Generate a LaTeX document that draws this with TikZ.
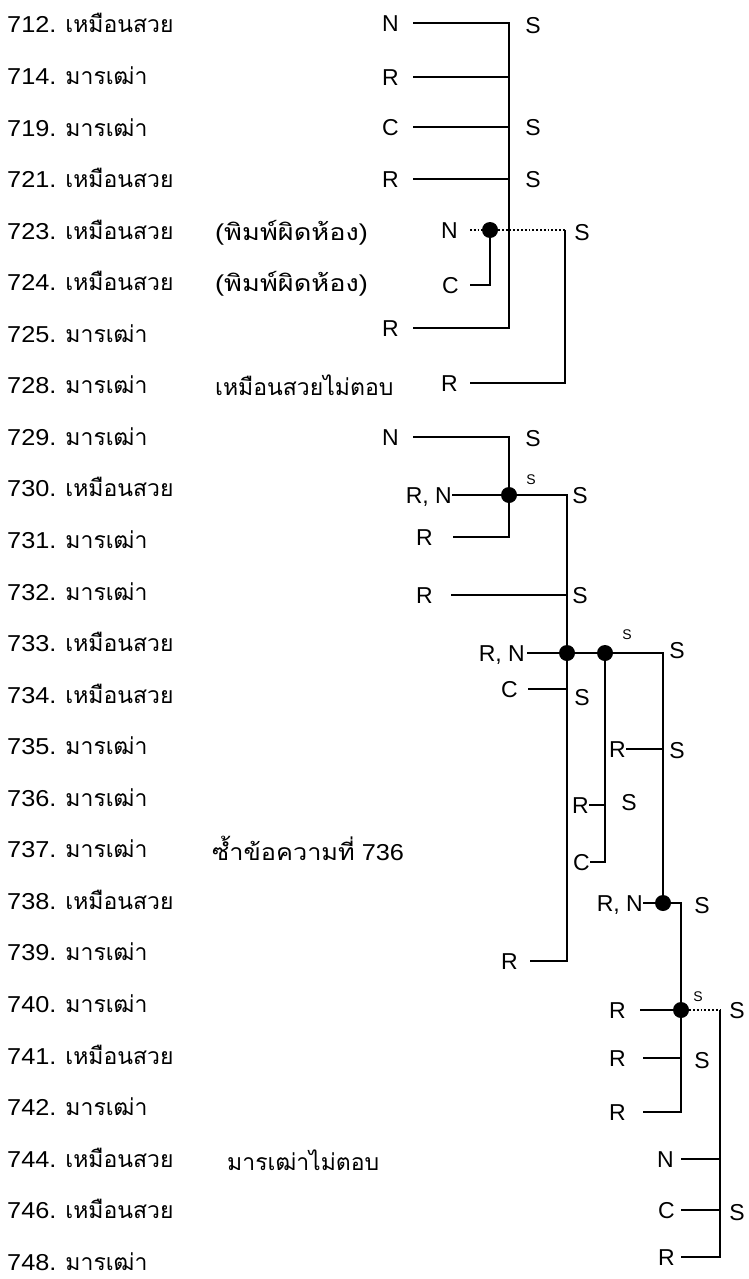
\documentclass[tikz,border=0pt]{standalone}
\usepackage{fontspec}
\setmainfont{Liberation Sans}
\newfontfamily\thaifont[Script=Thai]{Loma}
\usetikzlibrary{positioning}

\newcommand\thtxt[1]{{\thaifont #1}}
\newcommand\wide[2]{\scalebox{#1}[1]{#2}}

\begin{document}
\begin{tikzpicture}[x=1pt,y=-1pt,
  every node/.style={font=\fontsize{23}{27}\selectfont},
  wire/.style={line width=1.8pt},
  dotline/.style={line width=1.8pt,dotted},
  lab/.style={anchor=east,inner xsep=14pt,inner ysep=0pt,text height=16.5pt,text depth=0pt},
  row/.style={anchor=base west,inner sep=0pt},
  sl/.style={inner sep=0pt,text height=16.5pt,text depth=0pt},
  sm/.style={font=\fontsize{14}{16}\selectfont,inner sep=0pt},
  jdot/.style={circle,fill,inner sep=0pt,minimum size=16pt}]
\useasboundingbox (0,0) rectangle (748,1279);

% message list
\foreach \n/\who [count=\i from 0] in {712/เหมือนสวย,714/มารเฒ่า,719/มารเฒ่า,721/เหมือนสวย,
    723/เหมือนสวย,724/เหมือนสวย,725/มารเฒ่า,728/มารเฒ่า,729/มารเฒ่า,730/เหมือนสวย,
    731/มารเฒ่า,732/มารเฒ่า,733/เหมือนสวย,734/เหมือนสวย,735/มารเฒ่า,736/มารเฒ่า,
    737/มารเฒ่า,738/เหมือนสวย,739/มารเฒ่า,740/มารเฒ่า,741/เหมือนสวย,742/มารเฒ่า,
    744/เหมือนสวย,746/เหมือนสวย,748/มารเฒ่า}
  \node[row] (m\n) at (7,{33+51.55*\i}) {\wide{1.1}{\n.}\hspace{9pt}\thtxt{\who}};

% notes
\node[row] (x723) at (215,240) {\wide{1.18}{(\thtxt{พิมพ์ผิดห้อง})}};
\node[row] (x724) at (215,291) {\wide{1.18}{(\thtxt{พิมพ์ผิดห้อง})}};
\node[row] (x728) at (215,395) {\thtxt{เหมือนสวยไม่ตอบ}};
\node[row] (x737) at (212,860) {\wide{1.1}{\thtxt{ซ้ำข้อความที่} 736}};
\node[row] (x744) at (227,1170) {\thtxt{มารเฒ่าไม่ตอบ}};

% first block
\coordinate (a1) at (509,23);
\node[lab] (l712) at (413,23) {N};
\node[lab] (l714) at (413,77) {R};
\node[lab] (l719) at (413,127) {C};
\node[lab] (l721) at (413,179) {R};
\node[lab] (l725) at (413,328) {R};
\draw[wire] (l712.east) -- (a1) -- (a1 |- l725.east) -- (l725.east);
\foreach \r in {714,719,721}
  \draw[wire] (l\r.east) -- (l\r.east -| a1);
\node[sl] (s712) at (533,25) {S};
\node[sl] (s719) at (533,127) {S};
\node[sl] (s721) at (533,179) {S};

\node[lab,inner xsep=12pt] (l723) at (470,230) {N};
\node[lab,inner xsep=11pt] (l724) at (470,285) {C};
\node[lab,inner xsep=12pt] (l728) at (470,383) {R};
\node[jdot] (d723) at (490,230) {};
\coordinate (b1) at (565,230);
\draw[dotline] (l723.east) -- (d723) -- (b1);
\draw[wire] (d723.center) -- (d723.center |- l724.east) -- (l724.east);
\draw[wire] (b1) -- (b1 |- l728.east) -- (l728.east);
\node[sl] (s723) at (582,232) {S};

% second block
\node[lab] (l729) at (413,437) {N};
\node[lab,inner xsep=0pt] (l730) at (452,495) {R, N};
\node[lab,inner xsep=20pt] (l731) at (453,537) {R};
\node[lab,inner xsep=18pt] (l732) at (451,595) {R};
\node[lab,inner xsep=2pt] (l733) at (527,653) {R, N};
\node[lab,inner xsep=10pt] (l734) at (528,689) {C};
\node[lab,inner xsep=0pt] (l735) at (626,749) {R};
\node[lab,inner xsep=0pt] (l736) at (589,805) {R};
\node[lab,inner xsep=0pt] (l737) at (590,862) {C};
\node[lab,inner xsep=0pt] (l738) at (643,903) {R, N};
\node[lab,inner xsep=12pt] (l739) at (530,961) {R};
\node[lab] (l740) at (640,1010) {R};
\node[lab,inner xsep=17pt] (l741) at (643,1058) {R};
\node[lab,inner xsep=17pt] (l742) at (643,1112) {R};
\node[lab,inner xsep=7pt] (l744) at (681,1159) {N};
\node[lab,inner xsep=6pt] (l746) at (681,1210) {C};
\node[lab,inner xsep=6pt] (l748) at (681,1257) {R};

\coordinate (c1) at (509,437);
\coordinate (c2) at (567,495);
\coordinate (c3) at (663,653);
\coordinate (c4) at (681,903);
\coordinate (c5) at (720,1010);
\node[jdot] (d730) at (509,495) {};
\node[jdot] (d733) at (567,653) {};
\node[jdot] (e733) at (605,653) {};
\node[jdot] (d738) at (663,903) {};
\node[jdot] (d740) at (681,1010) {};

\draw[wire] (l729.east) -- (c1) -- (c1 |- l731.east) -- (l731.east);
\draw[wire] (l730.east) -- (c2) -- (c2 |- l739.east) -- (l739.east);
\draw[wire] (l732.east) -- (l732.east -| c2);
\draw[wire] (l733.east) -- (c3) -- (d738.center);
\draw[wire] (e733.center) -- (e733.center |- l737.east) -- (l737.east);
\draw[wire] (l734.east) -- (l734.east -| c2);
\draw[wire] (l735.east) -- (l735.east -| c3);
\draw[wire] (l736.east) -- (l736.east -| e733);
\draw[wire] (l738.east) -- (c4) -- (c4 |- l742.east) -- (l742.east);
\draw[wire] (l741.east) -- (l741.east -| c4);
\draw[wire] (l740.east) -- (d740.center);
\draw[dotline] (d740) -- (c5);
\draw[wire] (c5) -- (c5 |- l748.east) -- (l748.east);
\draw[wire] (l744.east) -- (l744.east -| c5);
\draw[wire] (l746.east) -- (l746.east -| c5);

\node[sl] (s729) at (533,438) {S};
\node[sl] (s730) at (580,495) {S};
\node[sm] (t730) at (531,480) {S};
\node[sl] (s732) at (580,595) {S};
\node[sl] (s733) at (677,650) {S};
\node[sm] (t733) at (627,635) {S};
\node[sl] (s734) at (582,697) {S};
\node[sl] (s735) at (677,750) {S};
\node[sl] (s736) at (629,802) {S};
\node[sl] (s738) at (702,905) {S};
\node[sl] (s740) at (737,1010) {S};
\node[sm] (t740) at (698,997) {S};
\node[sl] (s741) at (702,1060) {S};
\node[sl] (s746) at (737,1212) {S};
\end{tikzpicture}
\end{document}
